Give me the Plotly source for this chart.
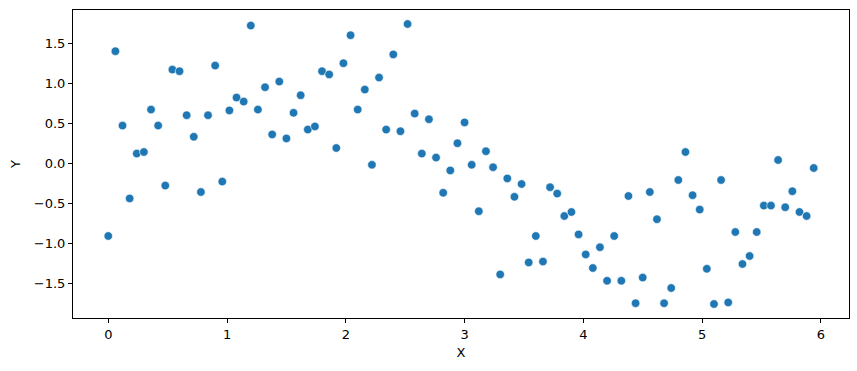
import plotly.graph_objects as go

x_values = [round(0.06 * i, 2) for i in range(100)]
y_values = [
    -0.91, 1.40, 0.47, -0.44, 0.12, 0.14, 0.67, 0.47, -0.28, 1.17,
    1.15, 0.60, 0.33, -0.36, 0.60, 1.22, -0.23, 0.66, 0.82, 0.77,
    1.72, 0.67, 0.95, 0.36, 1.02, 0.31, 0.63, 0.85, 0.42, 0.46,
    1.15, 1.11, 0.19, 1.25, 1.60, 0.67, 0.92, -0.02, 1.07, 0.42,
    1.36, 0.40, 1.74, 0.62, 0.12, 0.55, 0.07, -0.37, -0.09, 0.25,
    0.51, -0.02, -0.60, 0.15, -0.05, -1.39, -0.19, -0.42, -0.26, -1.24,
    -0.91, -1.23, -0.30, -0.38, -0.66, -0.61, -0.89, -1.14, -1.31, -1.05,
    -1.47, -0.91, -1.47, -0.41, -1.75, -1.43, -0.36, -0.70, -1.75, -1.56,
    -0.21, 0.14, -0.40, -0.58, -1.32, -1.76, -0.21, -1.74, -0.86, -1.26,
    -1.16, -0.86, -0.53, -0.53, 0.04, -0.55, -0.35, -0.61, -0.66, -0.06,
]
x_ticks = [0, 1, 2, 3, 4, 5, 6]
y_ticks = [-1.5, -1.0, -0.5, 0.0, 0.5, 1.0, 1.5]
y_tick_labels = ["−1.5", "−1.0", "−0.5", "0.0", "0.5", "1.0", "1.5"]

fig = go.Figure(
    go.Scatter(
        x=x_values, y=y_values, mode="markers",
        marker=dict(color="#1f77b4", size=8.5, line=dict(color="white", width=0.6)),
    )
)

axis_common = dict(
    showgrid=False, zeroline=False, showline=True, linecolor="black", linewidth=1,
    mirror=True, ticks="outside", ticklen=4, tickwidth=1, tickcolor="black",
    tickfont=dict(family="DejaVu Sans", size=13, color="black"),
)

fig.update_layout(
    width=857, height=371,
    margin=dict(l=73, r=8, t=10, b=53),
    paper_bgcolor="white", plot_bgcolor="white",
    showlegend=False,
    xaxis=dict(range=[-0.297, 6.237], tickvals=x_ticks,
               title=dict(text="X", font=dict(family="DejaVu Sans", size=13, color="black"), standoff=7),
               **axis_common),
    yaxis=dict(range=[-1.935, 1.915], tickvals=y_ticks, ticktext=y_tick_labels,
               title=dict(text="Y", font=dict(family="DejaVu Sans", size=13, color="black"), standoff=10),
               **axis_common),
)

fig.write_html("out.html")
